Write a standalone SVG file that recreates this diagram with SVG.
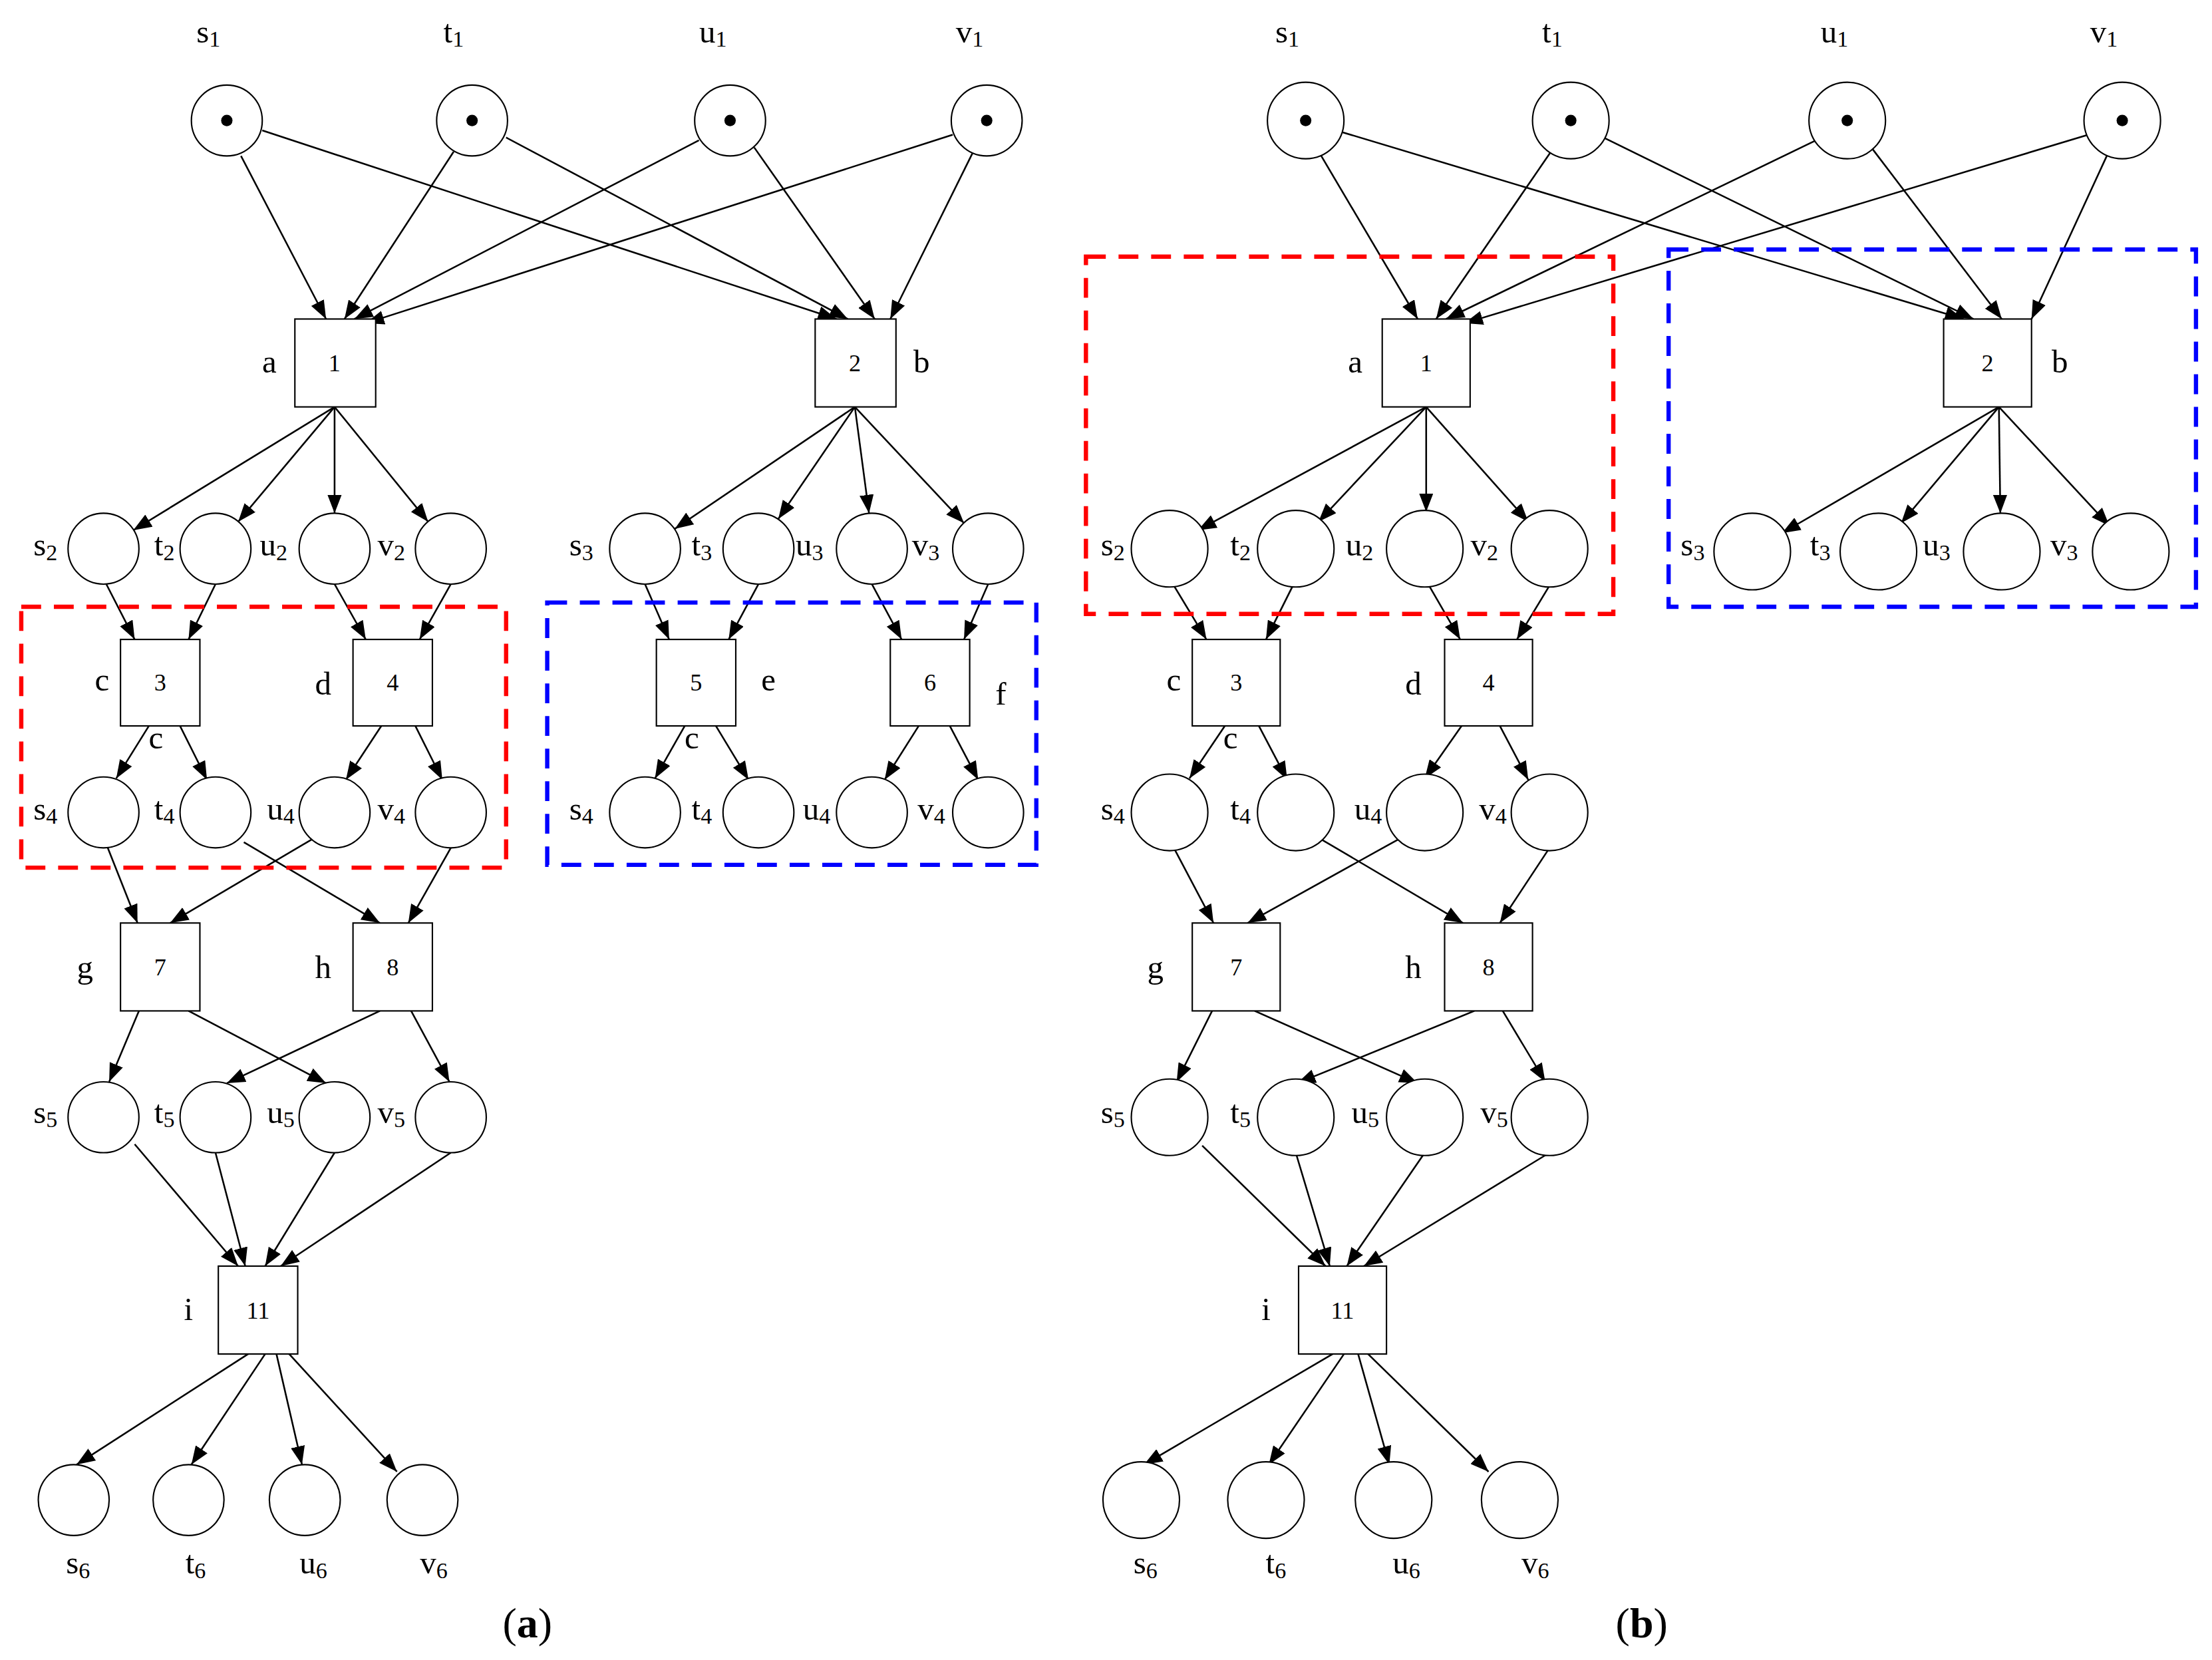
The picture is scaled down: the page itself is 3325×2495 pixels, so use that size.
<svg xmlns="http://www.w3.org/2000/svg" width="3325" height="2495" viewBox="0 0 3325 2495">
<style>
.p{fill:#fff;stroke:#000;stroke-width:1}
.t{fill:#fff;stroke:#000;stroke-width:1}
#connectors line{stroke:#000;stroke-width:1.2;marker-end:url(#ah)}
text{font-family:"Liberation Serif","Times New Roman",serif;font-size:23px;text-anchor:middle;fill:#000}
.n{font-size:17px}
.s{font-size:16px}
.red{fill:none;stroke:#f00;stroke-width:3;stroke-dasharray:14 9}
.blue{fill:none;stroke:#00f;stroke-width:3;stroke-dasharray:14 9}
</style>
<defs><marker id="ah" markerUnits="userSpaceOnUse" markerWidth="14" markerHeight="10" refX="13" refY="5" orient="auto"><path d="M0,0 L13,5 L0,10 Z" fill="#000"/></marker></defs>
<rect width="3325" height="2495" fill="#fff"/>
<g transform="scale(2.131)">
<g id="connectors">
<line x1="170" y1="110" x2="230" y2="225"/><line x1="185" y1="92" x2="590" y2="225"/><line x1="320" y1="107" x2="243" y2="225"/><line x1="357" y1="97" x2="598" y2="225"/><line x1="493" y1="99" x2="250" y2="225"/><line x1="532" y1="104" x2="617" y2="225"/><line x1="672" y1="95" x2="258" y2="228"/><line x1="686" y1="108" x2="628" y2="225"/>
<line x1="236" y1="287" x2="94" y2="374"/><line x1="236" y1="287" x2="168" y2="368"/><line x1="236" y1="287" x2="236" y2="362"/><line x1="236" y1="287" x2="302" y2="368"/>
<line x1="603" y1="287" x2="476" y2="373"/><line x1="603" y1="287" x2="549" y2="366"/><line x1="603" y1="287" x2="613" y2="362"/><line x1="603" y1="287" x2="680" y2="369"/>
<line x1="75" y1="412" x2="95" y2="451"/><line x1="152" y1="412" x2="133" y2="451"/><line x1="236" y1="412" x2="258" y2="451"/><line x1="318" y1="412" x2="296" y2="451"/>
<line x1="455" y1="412" x2="472" y2="451"/><line x1="535" y1="412" x2="514" y2="451"/><line x1="615" y1="412" x2="636" y2="451"/><line x1="697" y1="412" x2="680" y2="451"/>
<line x1="105" y1="512" x2="82" y2="549"/><line x1="127" y1="512" x2="146" y2="550"/><line x1="269" y1="512" x2="244" y2="550"/><line x1="293" y1="512" x2="312" y2="550"/>
<line x1="483" y1="512" x2="462" y2="549"/><line x1="505" y1="512" x2="528" y2="550"/><line x1="648" y1="512" x2="624" y2="550"/><line x1="670" y1="512" x2="690" y2="550"/>
<line x1="76" y1="598" x2="97" y2="651"/><line x1="220" y1="592" x2="120" y2="651"/><line x1="172" y1="594" x2="268" y2="651"/><line x1="318" y1="598" x2="288" y2="651"/>
<line x1="98" y1="713" x2="77" y2="763"/><line x1="133" y1="713" x2="230" y2="764"/><line x1="268" y1="713" x2="160" y2="764"/><line x1="290" y1="713" x2="317" y2="763"/>
<line x1="95" y1="807" x2="168" y2="893"/><line x1="152" y1="813" x2="173" y2="893"/><line x1="236" y1="813" x2="187" y2="893"/><line x1="318" y1="813" x2="198" y2="893"/>
<line x1="175" y1="955" x2="54" y2="1033"/><line x1="187" y1="955" x2="135" y2="1033"/><line x1="195" y1="955" x2="213" y2="1033"/><line x1="204" y1="955" x2="280" y2="1038"/>
<line x1="932" y1="110" x2="1000" y2="225"/><line x1="946" y1="93" x2="1385" y2="225"/><line x1="1094" y1="107" x2="1013" y2="225"/><line x1="1131" y1="97" x2="1392" y2="225"/><line x1="1281" y1="99" x2="1020" y2="225"/><line x1="1320" y1="104" x2="1412" y2="225"/><line x1="1473" y1="95" x2="1033" y2="228"/><line x1="1487" y1="108" x2="1433" y2="225"/>
<line x1="1006" y1="287" x2="845" y2="374"/><line x1="1006" y1="287" x2="930" y2="368"/><line x1="1006" y1="287" x2="1006" y2="361"/><line x1="1006" y1="287" x2="1078" y2="368"/>
<line x1="1410" y1="287" x2="1257" y2="376"/><line x1="1410" y1="287" x2="1341" y2="369"/><line x1="1410" y1="287" x2="1411" y2="362"/><line x1="1410" y1="287" x2="1488" y2="371"/>
<line x1="828" y1="413" x2="851" y2="451"/><line x1="912" y1="413" x2="893" y2="451"/><line x1="1008" y1="413" x2="1030" y2="451"/><line x1="1093" y1="413" x2="1070" y2="451"/>
<line x1="864" y1="512" x2="839" y2="549"/><line x1="888" y1="512" x2="908" y2="550"/><line x1="1031" y1="512" x2="1005" y2="549"/><line x1="1058" y1="512" x2="1078" y2="550"/>
<line x1="828" y1="598" x2="856" y2="651"/><line x1="990" y1="590" x2="880" y2="651"/><line x1="932" y1="592" x2="1032" y2="651"/><line x1="1093" y1="598" x2="1058" y2="651"/>
<line x1="855" y1="713" x2="830" y2="763"/><line x1="885" y1="713" x2="1000" y2="764"/><line x1="1040" y1="713" x2="915" y2="764"/><line x1="1060" y1="713" x2="1090" y2="763"/>
<line x1="848" y1="808" x2="935" y2="893"/><line x1="914" y1="813" x2="938" y2="893"/><line x1="1005" y1="813" x2="950" y2="893"/><line x1="1093" y1="813" x2="962" y2="893"/>
<line x1="940" y1="955" x2="807" y2="1033"/><line x1="948" y1="955" x2="895" y2="1033"/><line x1="958" y1="955" x2="980" y2="1033"/><line x1="965" y1="955" x2="1050" y2="1038"/>
</g>
<g id="groups">
<rect class="red" x="15" y="428" width="342" height="184"/>
<rect class="blue" x="386" y="425" width="345" height="185"/>
<rect class="red" x="766" y="181" width="372" height="252"/>
<rect class="blue" x="1177" y="176" width="372" height="252"/>
</g>
<g id="places-a">
<circle class="p" cx="160" cy="85" r="25"/><circle class="p" cx="333" cy="85" r="25"/><circle class="p" cx="515" cy="85" r="25"/><circle class="p" cx="696" cy="85" r="25"/>
<circle cx="160" cy="85" r="4"/><circle cx="333" cy="85" r="4"/><circle cx="515" cy="85" r="4"/><circle cx="696" cy="85" r="4"/>
<circle class="p" cx="73" cy="387" r="25"/><circle class="p" cx="152" cy="387" r="25"/><circle class="p" cx="236" cy="387" r="25"/><circle class="p" cx="318" cy="387" r="25"/>
<circle class="p" cx="455" cy="387" r="25"/><circle class="p" cx="535" cy="387" r="25"/><circle class="p" cx="615" cy="387" r="25"/><circle class="p" cx="697" cy="387" r="25"/>
<circle class="p" cx="73" cy="573" r="25"/><circle class="p" cx="152" cy="573" r="25"/><circle class="p" cx="236" cy="573" r="25"/><circle class="p" cx="318" cy="573" r="25"/>
<circle class="p" cx="455" cy="573" r="25"/><circle class="p" cx="535" cy="573" r="25"/><circle class="p" cx="615" cy="573" r="25"/><circle class="p" cx="697" cy="573" r="25"/>
<circle class="p" cx="73" cy="788" r="25"/><circle class="p" cx="152" cy="788" r="25"/><circle class="p" cx="236" cy="788" r="25"/><circle class="p" cx="318" cy="788" r="25"/>
<circle class="p" cx="52" cy="1058" r="25"/><circle class="p" cx="133" cy="1058" r="25"/><circle class="p" cx="215" cy="1058" r="25"/><circle class="p" cx="298" cy="1058" r="25"/>
</g>
<g id="transitions-a">
<rect class="t" x="208" y="225" width="57" height="62"/><text class="n" x="236" y="262">1</text>
<rect class="t" x="575" y="225" width="57" height="62"/><text class="n" x="603" y="262">2</text>
<rect class="t" x="85" y="451" width="56" height="61"/><text class="n" x="113" y="487">3</text>
<rect class="t" x="249" y="451" width="56" height="61"/><text class="n" x="277" y="487">4</text>
<rect class="t" x="463" y="451" width="56" height="61"/><text class="n" x="491" y="487">5</text>
<rect class="t" x="628" y="451" width="56" height="61"/><text class="n" x="656" y="487">6</text>
<rect class="t" x="85" y="651" width="56" height="62"/><text class="n" x="113" y="688">7</text>
<rect class="t" x="249" y="651" width="56" height="62"/><text class="n" x="277" y="688">8</text>
<rect class="t" x="154" y="893" width="56" height="62"/><text class="n" x="182" y="930">11</text>
</g>
<g id="labels-a">
<text x="147" y="30">s<tspan class="s" dy="3">1</tspan></text><text x="320" y="30">t<tspan class="s" dy="3">1</tspan></text><text x="503" y="30">u<tspan class="s" dy="3">1</tspan></text><text x="684" y="30">v<tspan class="s" dy="3">1</tspan></text>
<text x="190" y="263">a</text><text x="650" y="263">b</text>
<text x="32" y="392">s<tspan class="s" dy="3">2</tspan></text><text x="116" y="392">t<tspan class="s" dy="3">2</tspan></text><text x="193" y="392">u<tspan class="s" dy="3">2</tspan></text><text x="276" y="392">v<tspan class="s" dy="3">2</tspan></text>
<text x="410" y="392">s<tspan class="s" dy="3">3</tspan></text><text x="495" y="392">t<tspan class="s" dy="3">3</tspan></text><text x="571" y="392">u<tspan class="s" dy="3">3</tspan></text><text x="653" y="392">v<tspan class="s" dy="3">3</tspan></text>
<text x="72" y="487">c</text><text x="228" y="490">d</text><text x="542" y="487">e</text><text x="706" y="497">f</text>
<text x="110" y="528">c</text><text x="488" y="528">c</text>
<text x="32" y="578">s<tspan class="s" dy="3">4</tspan></text><text x="116" y="578">t<tspan class="s" dy="3">4</tspan></text><text x="198" y="578">u<tspan class="s" dy="3">4</tspan></text><text x="276" y="578">v<tspan class="s" dy="3">4</tspan></text>
<text x="410" y="578">s<tspan class="s" dy="3">4</tspan></text><text x="495" y="578">t<tspan class="s" dy="3">4</tspan></text><text x="576" y="578">u<tspan class="s" dy="3">4</tspan></text><text x="657" y="578">v<tspan class="s" dy="3">4</tspan></text>
<text x="60" y="690">g</text><text x="228" y="690">h</text>
<text x="32" y="792">s<tspan class="s" dy="3">5</tspan></text><text x="116" y="792">t<tspan class="s" dy="3">5</tspan></text><text x="198" y="792">u<tspan class="s" dy="3">5</tspan></text><text x="276" y="792">v<tspan class="s" dy="3">5</tspan></text>
<text x="133" y="931">i</text>
<text x="55" y="1110">s<tspan class="s" dy="3">6</tspan></text><text x="138" y="1110">t<tspan class="s" dy="3">6</tspan></text><text x="221" y="1110">u<tspan class="s" dy="3">6</tspan></text><text x="306" y="1110">v<tspan class="s" dy="3">6</tspan></text>
<text x="372" y="1155" style="font-size:30px">(<tspan font-weight="bold">a</tspan>)</text>
</g>
<g id="places-b">
<circle class="p" cx="921" cy="85" r="27"/><circle class="p" cx="1108" cy="85" r="27"/><circle class="p" cx="1303" cy="85" r="27"/><circle class="p" cx="1497" cy="85" r="27"/>
<circle cx="921" cy="85" r="4"/><circle cx="1108" cy="85" r="4"/><circle cx="1303" cy="85" r="4"/><circle cx="1497" cy="85" r="4"/>
<circle class="p" cx="825" cy="387" r="27"/><circle class="p" cx="914" cy="387" r="27"/><circle class="p" cx="1005" cy="387" r="27"/><circle class="p" cx="1093" cy="387" r="27"/>
<circle class="p" cx="1236" cy="389" r="27"/><circle class="p" cx="1325" cy="389" r="27"/><circle class="p" cx="1412" cy="389" r="27"/><circle class="p" cx="1503" cy="389" r="27"/>
<circle class="p" cx="825" cy="573" r="27"/><circle class="p" cx="914" cy="573" r="27"/><circle class="p" cx="1005" cy="573" r="27"/><circle class="p" cx="1093" cy="573" r="27"/>
<circle class="p" cx="825" cy="788" r="27"/><circle class="p" cx="914" cy="788" r="27"/><circle class="p" cx="1005" cy="788" r="27"/><circle class="p" cx="1093" cy="788" r="27"/>
<circle class="p" cx="805" cy="1058" r="27"/><circle class="p" cx="893" cy="1058" r="27"/><circle class="p" cx="983" cy="1058" r="27"/><circle class="p" cx="1072" cy="1058" r="27"/>
</g>
<g id="transitions-b">
<rect class="t" x="975" y="225" width="62" height="62"/><text class="n" x="1006" y="262">1</text>
<rect class="t" x="1371" y="225" width="62" height="62"/><text class="n" x="1402" y="262">2</text>
<rect class="t" x="841" y="451" width="62" height="61"/><text class="n" x="872" y="487">3</text>
<rect class="t" x="1019" y="451" width="62" height="61"/><text class="n" x="1050" y="487">4</text>
<rect class="t" x="841" y="651" width="62" height="62"/><text class="n" x="872" y="688">7</text>
<rect class="t" x="1019" y="651" width="62" height="62"/><text class="n" x="1050" y="688">8</text>
<rect class="t" x="916" y="893" width="62" height="62"/><text class="n" x="947" y="930">11</text>
</g>
<g id="labels-b">
<text x="908" y="30">s<tspan class="s" dy="3">1</tspan></text><text x="1095" y="30">t<tspan class="s" dy="3">1</tspan></text><text x="1294" y="30">u<tspan class="s" dy="3">1</tspan></text><text x="1484" y="30">v<tspan class="s" dy="3">1</tspan></text>
<text x="956" y="263">a</text><text x="1453" y="263">b</text>
<text x="785" y="392">s<tspan class="s" dy="3">2</tspan></text><text x="875" y="392">t<tspan class="s" dy="3">2</tspan></text><text x="959" y="392">u<tspan class="s" dy="3">2</tspan></text><text x="1047" y="392">v<tspan class="s" dy="3">2</tspan></text>
<text x="1194" y="392">s<tspan class="s" dy="3">3</tspan></text><text x="1284" y="392">t<tspan class="s" dy="3">3</tspan></text><text x="1366" y="392">u<tspan class="s" dy="3">3</tspan></text><text x="1456" y="392">v<tspan class="s" dy="3">3</tspan></text>
<text x="828" y="487">c</text><text x="997" y="490">d</text><text x="868" y="528">c</text>
<text x="785" y="578">s<tspan class="s" dy="3">4</tspan></text><text x="875" y="578">t<tspan class="s" dy="3">4</tspan></text><text x="965" y="578">u<tspan class="s" dy="3">4</tspan></text><text x="1053" y="578">v<tspan class="s" dy="3">4</tspan></text>
<text x="815" y="690">g</text><text x="997" y="690">h</text>
<text x="785" y="792">s<tspan class="s" dy="3">5</tspan></text><text x="875" y="792">t<tspan class="s" dy="3">5</tspan></text><text x="963" y="792">u<tspan class="s" dy="3">5</tspan></text><text x="1054" y="792">v<tspan class="s" dy="3">5</tspan></text>
<text x="893" y="931">i</text>
<text x="808" y="1110">s<tspan class="s" dy="3">6</tspan></text><text x="900" y="1110">t<tspan class="s" dy="3">6</tspan></text><text x="992" y="1110">u<tspan class="s" dy="3">6</tspan></text><text x="1083" y="1110">v<tspan class="s" dy="3">6</tspan></text>
<text x="1158" y="1155" style="font-size:30px">(<tspan font-weight="bold">b</tspan>)</text>
</g>
</g>
</svg>
